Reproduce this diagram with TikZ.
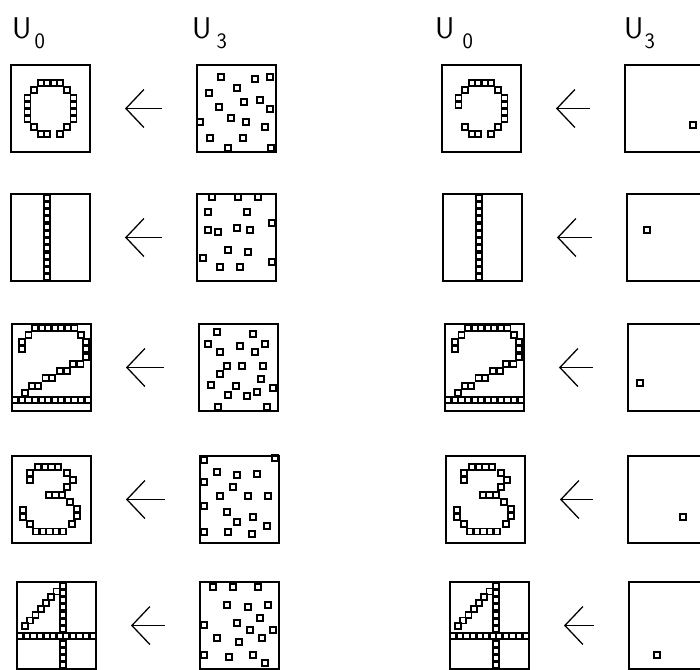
\documentclass[tikz,border=0pt]{standalone}
\usepackage{tikz}
\usetikzlibrary{arrows.meta, positioning, calc}
\definecolor{plotink}{RGB}{0,0,0}

\tikzset{
  pane/.style={draw=plotink, line width=1.8pt, minimum width=79pt, minimum height=87pt,
    inner sep=0pt, outer sep=0pt, anchor=north west},
  pix/.style={draw=plotink, line width=1.8pt},
  back/.style={draw=plotink, line width=1.3pt, -{Straight Barb[length=18pt, width=38pt]},
    shorten >=35pt, shorten <=35pt},
  ulabel/.style={anchor=base west, inner sep=0pt, text=plotink, font=\sffamily\fontsize{30}{30}\selectfont}
}

% label U with lowered index
\newcommand{\usub}[2][4pt]{U\kern#1\raisebox{-10pt}{\fontsize{22}{22}\selectfont #2}}

% squares on the 12x12 raster of a pane (col/row)
\newcommand{\raster}[2]{%
  \begin{scope}[shift={(#1.north west)}]
    \foreach \ci/\rj in #2
      \draw[pix] ({(\ci+0.5)*6.58-3},{(\rj+0.5)*7.25-3}) rectangle ++(6,6);
  \end{scope}}
% squares at free spots of a pane (x/y from its corner)
\newcommand{\specks}[2]{%
  \begin{scope}[shift={(#1.north west)}]
    \foreach \px/\py in {#2}
      \draw[pix] (\px-3,\py-3) rectangle ++(6,6);
  \end{scope}}

\newcommand{\digzeroL}{4/2,5/2,6/2,7/2,3/3,8/3,2/4,9/4,2/5,9/5,2/6,9/6,2/7,9/7,3/8,8/8,4/9,5/9,7/9}
\newcommand{\digzeroR}{4/2,5/2,6/2,7/2,3/3,8/3,2/4,9/4,2/5,9/5,9/6,9/7,3/8,8/8,4/9,5/9,7/9}
\newcommand{\digone}{5/0,5/1,5/2,5/3,5/4,5/5,5/6,5/7,5/8,5/9,5/10,5/11}
\newcommand{\digtwo}{3/0,4/0,5/0,6/0,7/0,8/0,9/0,2/1,10/1,1/2,10.7/2,1/3,10.7/3,10.7/4,
  8.8/5,9.9/5,6.8/6,7.8/6,4.6/7,5.6/7,2.5/8,3.5/8,1.5/9,
  0/10,1/10,2/10,3/10,4/10,5/10,6/10,7/10,8/10,9/10,10/10,11/10}
\newcommand{\digthree}{3.5/1,4.5/1,5.5/1,6.5/1,2.2/1.8,7.8/1.8,2.2/2.8,8.8/2.8,7.8/3.8,
  5.1/4.9,6.1/4.9,7.1/4.9,8.3/5.8,9.4/6.8,1.2/6.9,9.4/7.8,1.2/7.9,2.2/8.9,8.6/8.9,
  3.2/9.9,4.2/9.9,5.2/9.9,6.2/9.9,7.2/9.9}
\newcommand{\digfour}{6.5/0,6.5/1,6.5/2,6.5/3,6.5/4,6.5/5,6.5/6,6.5/8,6.5/9,6.5/10,6.5/11,
  0/7,1/7,2/7,3/7,4/7,5/7,6/7,7/7,8/7,9/7,10/7,11/7,
  5.5/0.8,4.7/1.6,3.9/2.4,3.1/3.2,2.3/4.0,1.5/4.8,0.7/5.6}

\begin{document}
\begin{tikzpicture}[x=1pt, y=-1pt]
  \useasboundingbox (0,0) rectangle (700,669);
  \clip (0,0) rectangle (700,669);

  % column heads
  \node[ulabel] (h1) at (12,38) {\usub[3pt]{0}};
  \node[ulabel] (h2) at (192,38) {\usub[5pt]{3}};
  \node[ulabel] (h3) at (435,38) {\usub[8pt]{0}};
  \node[ulabel] (h4) at (624,38) {\usub[1pt]{3}};

  % panes and arrows, row by row
  \foreach \n/\yy/\xa/\xb/\xc/\xd in {1/65/11/197/442/625, 2/194/11/197/443/627,
      3/324/12/199/445/628, 4/456/12/200/446/628, 5/582/17/200/450/629} {
    \node[pane] (la\n) at (\xa,\yy) {};
    \node[pane] (lb\n) at (\xb,\yy) {};
    \node[pane] (ra\n) at (\xc,\yy) {};
    \node[pane] (rb\n) at (\xd,\yy) {};
    \draw[back] (lb\n) -- (la\n);
    \draw[back] (rb\n) -- (ra\n);
  }

  % U0 patterns
  \raster{la1}{\digzeroL}
  \raster{la2}{\digone}
  \raster{la3}{\digtwo}
  \raster{la4}{\digthree}
  \raster{la5}{\digfour}
  \raster{ra1}{\digzeroR}
  \raster{ra2}{\digone}
  \raster{ra3}{\digtwo}
  \raster{ra4}{\digthree}
  \raster{ra5}{\digfour}

  % U3 noise, left
  \specks{lb1}{24/12,58/14,73/12,12/28,40/23,47/37,63/35,73/44,22/42,34/53,49/57,68/62,3/57,13/73,46/73,31/83,74/83}
  \specks{lb2}{15/3,41/3,61/3,11/18,50/18,11/36,21/38,40/34,53/36,75/29,31/56,51/58,6/64,23/73,43/73,75/68}
  \specks{lb3}{18/8,54/10,9/20,41/22,66/20,21/28,56/28,28/42,43/42,64/42,21/50,62/55,12/61,37/62,74/64,29/71,48/72,58/68,19/83,68/83}
  \specks{lb4}{4/4,75/2,17/16,37/19,57/18,4/26,33/31,20/40,48/40,68/40,4/50,27/56,53/61,4/76,28/76,37/66,52/78,67/70}
  \specks{lb5}{13/5,33/5,58/5,27/23,48/25,68/23,60/36,4/43,37/41,50/48,73/48,17/56,39/60,62/56,4/73,29/75,53/73,65/81}

  % U3, right
  \specks{rb1}{68/60}
  \specks{rb2}{20/36}
  \specks{rb3}{12/59}
  \specks{rb4}{55/61}
  \specks{rb5}{28/73}
\end{tikzpicture}
\end{document}
